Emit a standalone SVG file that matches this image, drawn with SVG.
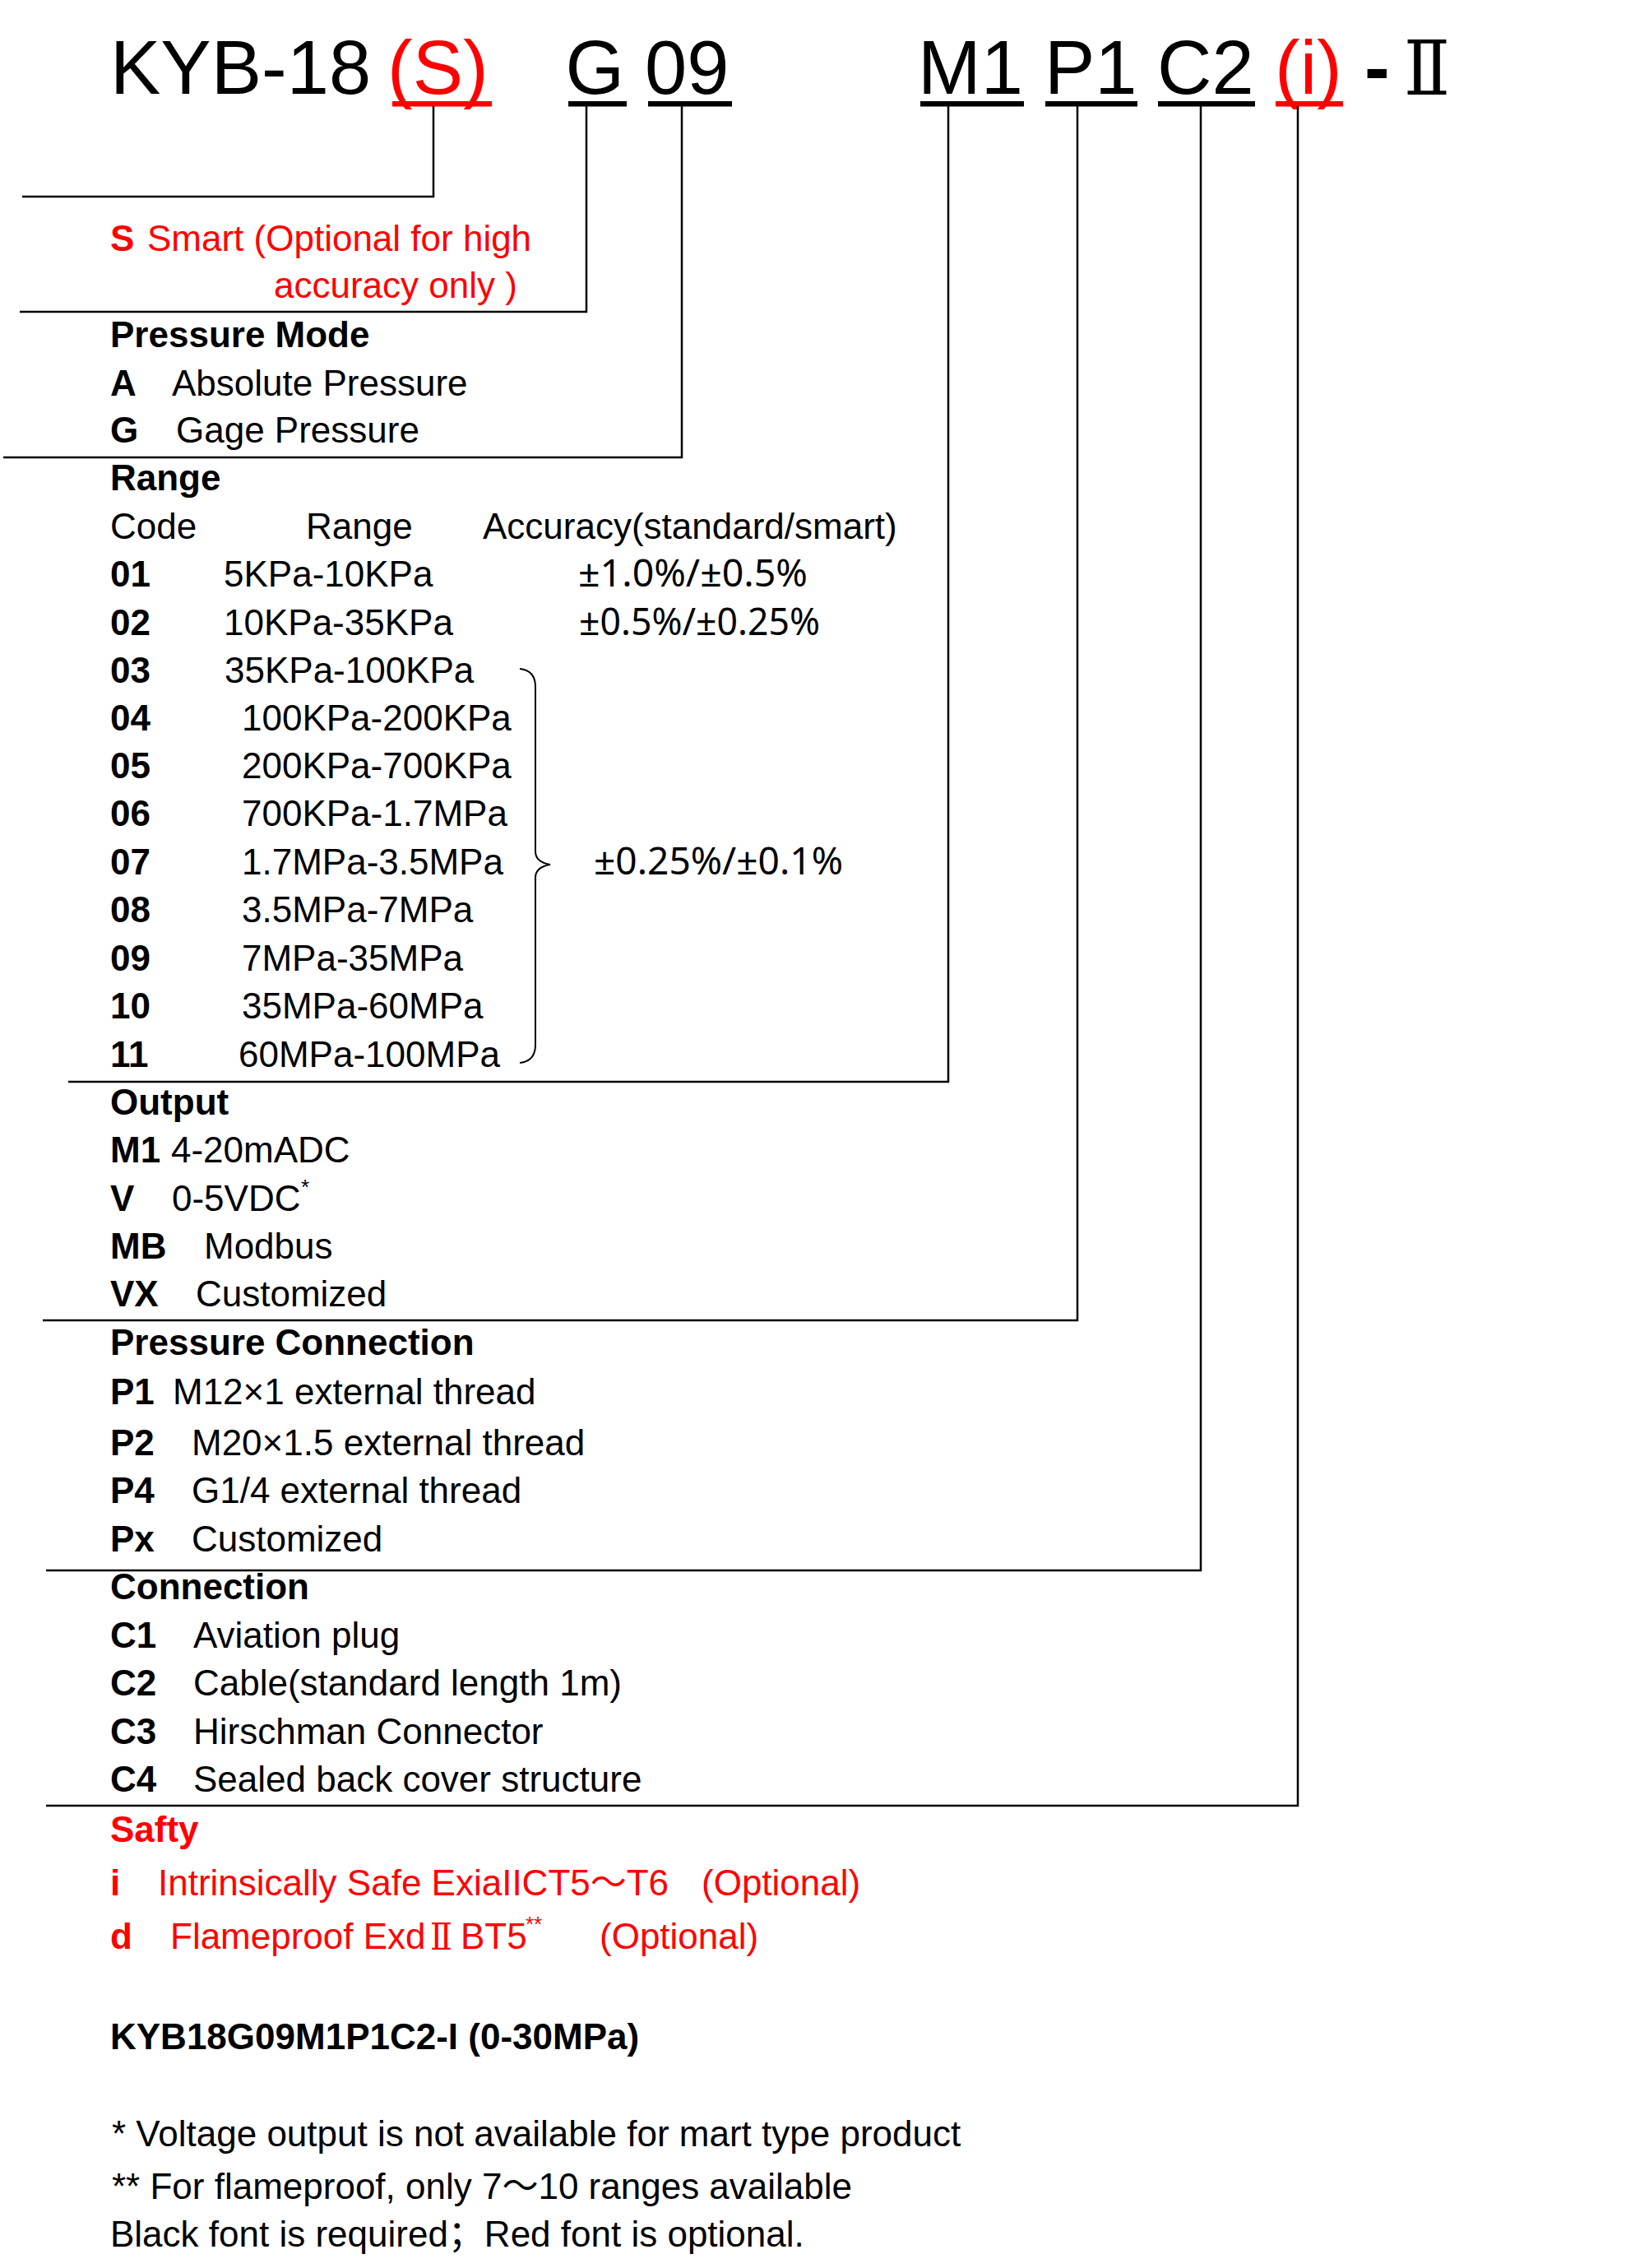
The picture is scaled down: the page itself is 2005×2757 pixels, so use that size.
<svg xmlns="http://www.w3.org/2000/svg" width="2005" height="2757" viewBox="0 0 2005 2757">
<style>
text{font-family:"Liberation Sans",Arial,"Noto Sans CJK SC",sans-serif;font-size:44px;fill:#000}
.b{font-weight:bold}
.r{fill:#ff0000}
.ti{font-size:92px}
.rn{font-family:"Liberation Serif","DejaVu Serif","Noto Sans CJK SC",serif}
.acc{font-family:"Noto Sans","Open Sans","Liberation Sans",sans-serif;font-size:45px}
.sup{font-size:26px}
.ln{stroke:#000;stroke-width:2.5;fill:none}
.ul{fill:#000}
.ulr{fill:#ff0000}
</style>
<rect width="2005" height="2757" fill="#fff"/>

<g id="title">
<text class="ti" x="134" y="114">KYB-18</text>
<text class="ti r" x="471" y="114">(S)</text>
<text class="ti" x="687.5" y="114">G</text>
<text class="ti" x="784" y="114">09</text>
<text class="ti" x="1116" y="114">M1</text>
<text class="ti" x="1270" y="114">P1</text>
<text class="ti" x="1407" y="114">C2</text>
<text class="ti r" x="1550" y="114">(i)</text>
<text class="ti b" x="1659" y="114">-</text>
<text class="ti rn" x="1707" y="115" textLength="56" lengthAdjust="spacingAndGlyphs">Ⅱ</text>
<rect class="ulr" x="477" y="123" width="121" height="6.5"/>
<rect class="ul" x="691" y="123" width="71" height="6.5"/>
<rect class="ul" x="788" y="123" width="102" height="6.5"/>
<rect class="ul" x="1119" y="123" width="126" height="6.5"/>
<rect class="ul" x="1271" y="123" width="112" height="6.5"/>
<rect class="ul" x="1408" y="123" width="118" height="6.5"/>
<rect class="ulr" x="1551" y="123" width="82" height="6.5"/>
</g>

<g id="connectors">
<path class="ln" d="M527 129 V239 H27"/>
<path class="ln" d="M713 129 V379 H24"/>
<path class="ln" d="M829 129 V556 H4"/>
<path class="ln" d="M1153 129 V1315 H83"/>
<path class="ln" d="M1310 129 V1605 H52"/>
<path class="ln" d="M1460 129 V1909 H56"/>
<path class="ln" d="M1578 129 V2195 H56"/>
</g>

<g id="smart">
<text class="r" x="134" y="305"><tspan class="b">S</tspan><tspan x="179">Smart (Optional for high</tspan></text>
<text class="r" x="333" y="362">accuracy only )</text>
</g>

<g id="pressure-mode">
<text class="b" x="134" y="422">Pressure Mode</text>
<text x="134" y="481"><tspan class="b">A</tspan><tspan x="209">Absolute Pressure</tspan></text>
<text x="134" y="538"><tspan class="b">G</tspan><tspan x="214">Gage Pressure</tspan></text>
</g>

<g id="range">
<text class="b" x="134" y="596">Range</text>
<text x="134" y="655">Code<tspan x="372">Range</tspan><tspan x="587">Accuracy(standard/smart)</tspan></text>
<text x="134" y="713"><tspan class="b">01</tspan><tspan x="272">5KPa-10KPa</tspan></text>
<text class="acc" x="703" y="713" textLength="279" lengthAdjust="spacingAndGlyphs">±1.0%/±0.5%</text>
<text x="134" y="772"><tspan class="b">02</tspan><tspan x="272">10KPa-35KPa</tspan></text>
<text class="acc" x="704" y="772" textLength="293" lengthAdjust="spacingAndGlyphs">±0.5%/±0.25%</text>
<text x="134" y="830"><tspan class="b">03</tspan><tspan x="273">35KPa-100KPa</tspan></text>
<text x="134" y="888"><tspan class="b">04</tspan><tspan x="294">100KPa-200KPa</tspan></text>
<text x="134" y="946"><tspan class="b">05</tspan><tspan x="294">200KPa-700KPa</tspan></text>
<text x="134" y="1004"><tspan class="b">06</tspan><tspan x="294">700KPa-1.7MPa</tspan></text>
<text x="134" y="1063"><tspan class="b">07</tspan><tspan x="294">1.7MPa-3.5MPa</tspan></text>
<text x="134" y="1121"><tspan class="b">08</tspan><tspan x="294">3.5MPa-7MPa</tspan></text>
<text x="134" y="1180"><tspan class="b">09</tspan><tspan x="294">7MPa-35MPa</tspan></text>
<text x="134" y="1238"><tspan class="b">10</tspan><tspan x="294">35MPa-60MPa</tspan></text>
<text x="134" y="1297"><tspan class="b">11</tspan><tspan x="290">60MPa-100MPa</tspan></text>
<path d="M632 813 Q651 815 651 835 L651 1035 Q651 1048 669 1051 Q651 1054 651 1067 L651 1270 Q651 1290 632 1292" fill="none" stroke="#000" stroke-width="2"/>
<text class="acc" x="722" y="1063" textLength="303" lengthAdjust="spacingAndGlyphs">±0.25%/±0.1%</text>
</g>

<g id="output">
<text class="b" x="134" y="1355">Output</text>
<text x="134" y="1413"><tspan class="b">M1</tspan><tspan x="208">4-20mADC</tspan></text>
<text x="134" y="1472"><tspan class="b">V</tspan><tspan x="209">0-5VDC</tspan></text>
<text class="sup" x="366" y="1452">*</text>
<text x="134" y="1530"><tspan class="b">MB</tspan><tspan x="248">Modbus</tspan></text>
<text x="134" y="1588"><tspan class="b">VX</tspan><tspan x="238">Customized</tspan></text>
</g>

<g id="pressure-connection">
<text class="b" x="134" y="1647">Pressure Connection</text>
<text x="134" y="1707"><tspan class="b">P1</tspan><tspan x="210">M12×1 external thread</tspan></text>
<text x="134" y="1769"><tspan class="b">P2</tspan><tspan x="233">M20×1.5 external thread</tspan></text>
<text x="134" y="1827"><tspan class="b">P4</tspan><tspan x="233">G1/4 external thread</tspan></text>
<text x="134" y="1886"><tspan class="b">Px</tspan><tspan x="233">Customized</tspan></text>
</g>

<g id="connection">
<text class="b" x="134" y="1944">Connection</text>
<text x="134" y="2003"><tspan class="b">C1</tspan><tspan x="235">Aviation plug</tspan></text>
<text x="134" y="2061"><tspan class="b">C2</tspan><tspan x="235">Cable(standard length 1m)</tspan></text>
<text x="134" y="2120"><tspan class="b">C3</tspan><tspan x="235">Hirschman Connector</tspan></text>
<text x="134" y="2178"><tspan class="b">C4</tspan><tspan x="235">Sealed back cover structure</tspan></text>
</g>

<g id="safety">
<text class="b r" x="134" y="2239">Safty</text>
<text class="r" x="134" y="2304"><tspan class="b">i</tspan><tspan x="192">Intrinsically Safe ExiaIICT5～T6</tspan><tspan x="853">(Optional)</tspan></text>
<text class="r" x="134" y="2369"><tspan class="b">d</tspan><tspan x="207">Flameproof Exd</tspan></text>
<text class="r rn" x="523" y="2370" textLength="27" lengthAdjust="spacingAndGlyphs">Ⅱ</text>
<text class="r" x="560" y="2369">BT5</text>
<text class="r sup" x="639" y="2348">**</text>
<text class="r" x="729" y="2369">(Optional)</text>
</g>

<g id="example">
<text class="b" x="134" y="2491">KYB18G09M1P1C2-I (0-30MPa)</text>
</g>

<g id="notes">
<text x="136" y="2609">* Voltage output is not available for mart type product</text>
<text x="136" y="2673">** For flameproof, only 7～10 ranges available</text>
<text x="134" y="2731">Black font is required；Red font is optional.</text>
</g>
</svg>
